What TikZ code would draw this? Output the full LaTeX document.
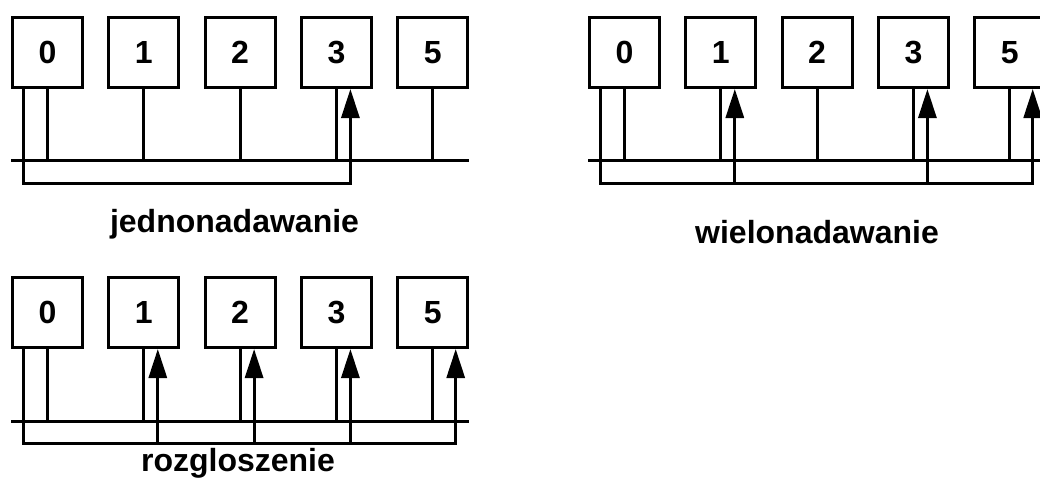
\documentclass[tikz,border=0pt]{standalone}
\usepackage{fontspec}
\setmainfont{Liberation Sans}
\usepackage{tikz}
\usetikzlibrary{positioning}
\usetikzlibrary{arrows.meta}

\tikzset{
  stn/.style={draw, line width=3pt, minimum width=70pt, minimum height=70pt, inner sep=0pt,
    font=\fontsize{32}{38}\selectfont\bfseries},
  lbl/.style={font=\fontsize{32}{38}\selectfont\bfseries, anchor=base, inner sep=0pt},
  tri/.style={-{Triangle[length=29pt,width=18pt]}}
}

\begin{document}
\begin{tikzpicture}[x=1pt, y=-1pt, node distance=23.3pt, line width=3pt]
      \useasboundingbox (0,0) rectangle (1040,479);
      \clip (0,0) rectangle (1040,479);

      \node[stn] (a0) at (47.5,52.5) {0};
      \node[stn] (a1) [right=of a0] {1};
      \node[stn] (a2) [right=of a1] {2};
      \node[stn] (a3) [right=of a2] {3};
      \node[stn] (a5) [right=of a3] {5};
      \coordinate (abus) at (0,160);
      \coordinate (aloop) at (0,183);

      \draw (a0.west |- abus) -- (a5.east |- abus);
      \draw (a0.south) -- (a0.south |- abus);
      \draw (a1.south) -- (a1.south |- abus);
      \draw (a2.south) -- (a2.south |- abus);
      \draw (a3.south) -- (a3.south |- abus);
      \draw (a5.south) -- (a5.south |- abus);
      \draw[tri] ([xshift=-24pt]a0.south) -- ([xshift=-24pt]a0.south |- aloop) -| ([xshift=14pt]a3.south);
      \node[lbl] (la) at (234.5,232) {jednonadawanie};

      \node[stn] (b0) at (624.5,52.5) {0};
      \node[stn] (b1) [right=of b0] {1};
      \node[stn] (b2) [right=of b1] {2};
      \node[stn] (b3) [right=of b2] {3};
      \node[stn] (b5) [right=of b3] {5};
      \coordinate (bbus) at (0,160);
      \coordinate (bloop) at (0,183);

      \draw (b0.west |- bbus) -- (b5.east |- bbus);
      \draw (b0.south) -- (b0.south |- bbus);
      \draw (b1.south) -- (b1.south |- bbus);
      \draw (b2.south) -- (b2.south |- bbus);
      \draw (b3.south) -- (b3.south |- bbus);
      \draw (b5.south) -- (b5.south |- bbus);
      \draw[tri] ([xshift=-24pt]b0.south) -- ([xshift=-24pt]b0.south |- bloop) -| ([xshift=23pt]b5.south);
      \draw[tri] ([xshift=14pt]b1.south |- bloop) -- ([xshift=14pt]b1.south);
      \draw[tri] ([xshift=14pt]b3.south |- bloop) -- ([xshift=14pt]b3.south);
      \node[lbl] (lb) at (817,243) {wielonadawanie};

      \node[stn] (c0) at (47.5,312.5) {0};
      \node[stn] (c1) [right=of c0] {1};
      \node[stn] (c2) [right=of c1] {2};
      \node[stn] (c3) [right=of c2] {3};
      \node[stn] (c5) [right=of c3] {5};
      \coordinate (cbus) at (0,421);
      \coordinate (cloop) at (0,443);

      \draw (c0.west |- cbus) -- (c5.east |- cbus);
      \draw (c0.south) -- (c0.south |- cbus);
      \draw (c1.south) -- (c1.south |- cbus);
      \draw (c2.south) -- (c2.south |- cbus);
      \draw (c3.south) -- (c3.south |- cbus);
      \draw (c5.south) -- (c5.south |- cbus);
      \draw[tri] ([xshift=-24pt]c0.south) -- ([xshift=-24pt]c0.south |- cloop) -| ([xshift=23pt]c5.south);
      \draw[tri] ([xshift=14pt]c1.south |- cloop) -- ([xshift=14pt]c1.south);
      \draw[tri] ([xshift=14pt]c2.south |- cloop) -- ([xshift=14pt]c2.south);
      \draw[tri] ([xshift=14pt]c3.south |- cloop) -- ([xshift=14pt]c3.south);
      \node[lbl] (lc) at (238,471) {rozgloszenie};
    \end{tikzpicture}
\end{document}
